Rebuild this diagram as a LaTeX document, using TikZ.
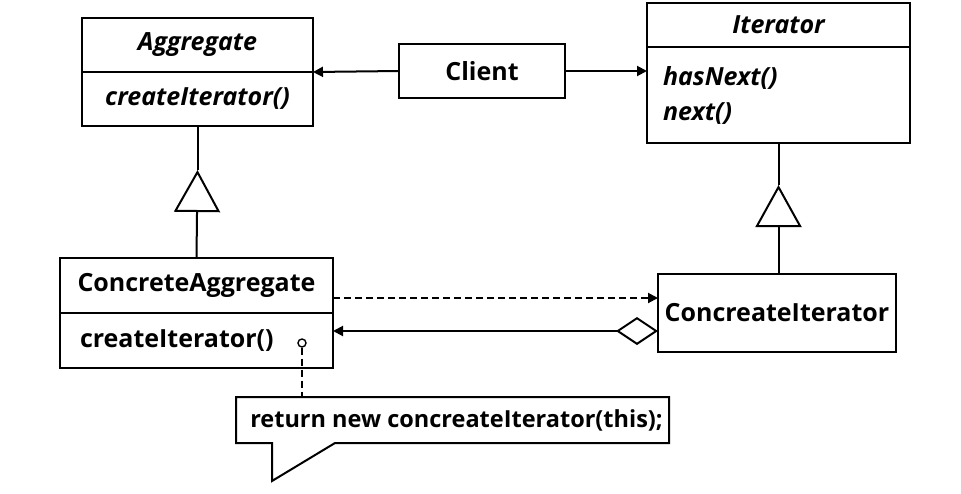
\documentclass[tikz,border=0pt]{standalone}
\usepackage{fontspec}
\setmainfont{Open Sans}
\usetikzlibrary{arrows.meta,positioning,calc}

\begin{document}
\begin{tikzpicture}[x=1pt,y=-1pt,line width=2pt,
  every node/.style={font=\fontsize{25}{35}\selectfont\bfseries},
  box/.style={draw,rectangle,inner sep=0pt,outer sep=0pt},
  abstr/.style={font=\fontsize{25}{35}\selectfont\bfseries\itshape},
  tip/.style={-{Triangle[length=10pt,width=10pt]}},
  inherit/.style={-{Triangle[open,length=42pt,width=46pt]}}]
  \useasboundingbox (0,0) rectangle (961,493);

  \node[box,abstr,minimum width=231pt,minimum height=54pt] (aggH) at (197.5,45) {Aggregate};
  \node[box,abstr,minimum width=231pt,minimum height=54pt,below=0pt of aggH] (aggB) {createIterator()};
  \node[box,minimum width=166pt,minimum height=54pt] (client) at (482,71) {Client};
  \node[box,abstr,minimum width=263pt,minimum height=44pt] (itH) at (778.5,25) {Iterator};
  \node[box,abstr,minimum height=96pt,text width=231pt,inner xsep=16pt,align=left,below=0pt of itH] (itB) {hasNext()\\next()};

  \node[box,minimum width=273pt,minimum height=55pt] (caH) at (196.5,285.5) {ConcreteAggregate};
  \node[box,minimum height=55pt,text width=233pt,inner xsep=20pt,align=left,below=0pt of caH] (caB) {createIterator()};
  \node[box,minimum width=238pt,minimum height=78pt] (ci) at (777,313) {ConcreateIterator};

  \node[circle,draw,line width=1.4pt,inner sep=0pt,minimum size=8pt] (pin) at (302,343) {};
  \node[minimum width=431pt,minimum height=44pt,inner sep=0pt,font=\fontsize{23.5}{35}\selectfont\bfseries] (note) at (452.5,420) {\hspace{8pt}return new concreateIterator(this);};

  \coordinate (aggTip) at (197.5,170);
  \coordinate (itTip) at (778.5,185);

  % generalization
  \draw[inherit] (caH.north) -- (aggTip);
  \draw (aggTip) -- (aggB.south);
  \draw[inherit] (itTip |- ci.north) -- (itTip);
  \draw (itTip) -- (itB.south);

  \draw[tip] (client.west) -- (aggH.south east);
  \draw[tip] (client.east) -- (client.east -| itB.west);
  \draw[tip,dash pattern=on 7pt off 4pt] ([yshift=15pt]caH.south east) -- ([yshift=15pt]ci.west);
  \draw[{Diamond[open,length=42pt,width=28pt]}-{Triangle[length=10pt,width=10pt]}]
    ([yshift=-18pt]ci.west) -- ([yshift=-18pt]ci.west -| caB.east);

  % note
  \draw[dash pattern=on 7pt off 4pt] (pin) -- (pin |- note.north);
  \draw (note.north west) -- (note.north east) -- (note.south east)
    -- ([xshift=99pt]note.south west) -- ([xshift=36pt,yshift=-38pt]note.south west)
    -- ([xshift=36pt]note.south west) -- (note.south west) -- cycle;
\end{tikzpicture}
\end{document}
